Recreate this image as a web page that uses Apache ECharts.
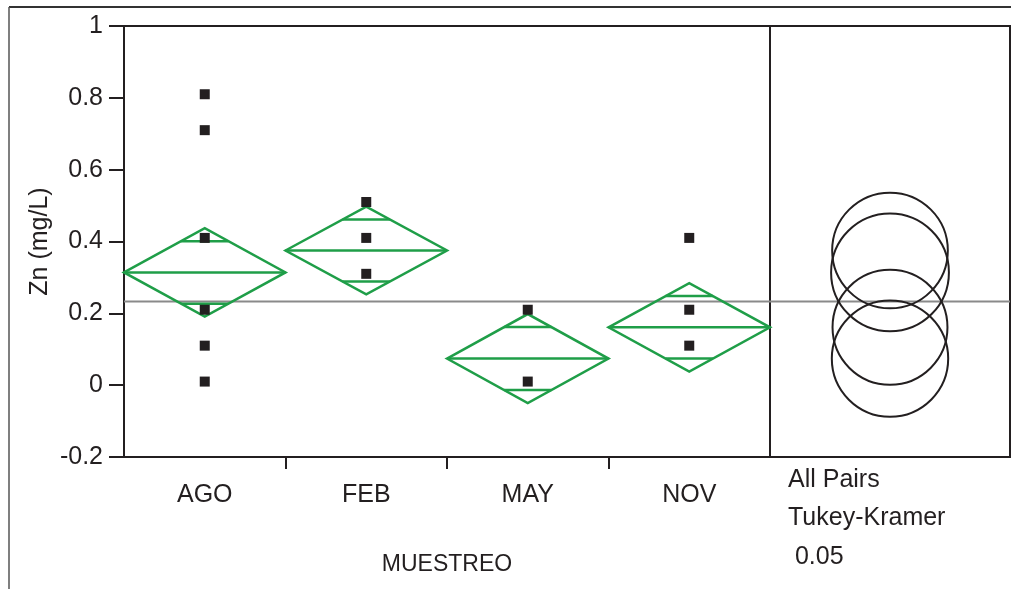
<!DOCTYPE html>
<html>
<head>
<meta charset="utf-8">
<script src="https://cdn.jsdelivr.net/npm/echarts@6/dist/echarts.min.js"></script>
<style>
html,body{margin:0;padding:0;background:#fff;}
#chart{width:1011px;height:589px;}
</style>
</head>
<body>
<div id="chart"></div>
<script>
// ---- data ----
const categories = ['AGO', 'FEB', 'MAY', 'NOV'];
const agoValues = [0.81, 0.71, 0.41, 0.21, 0.11, 0.01];
const febValues = [0.51, 0.41, 0.31];
const mayValues = [0.21, 0.01];
const novValues = [0.41, 0.21, 0.11];
const groupMeans = [0.314, 0.375, 0.074, 0.161];
const ciHalfWidths = [0.123, 0.122, 0.124, 0.123];
const circleRadii = [0.164, 0.161, 0.162, 0.160];
const grandMean = 0.233;
const yMin = -0.2, yMax = 1, yStep = 0.2;
const yTitle = 'Zn (mg/L)';
const xTitle = 'MUESTREO';
const compareLabels = ['All Pairs', 'Tukey-Kramer', ' 0.05'];

// ---- build ----
const groups = [agoValues, febValues, mayValues, novValues];
const pointData = [];
groups.forEach((vals, i) => vals.forEach(v => pointData.push([i + 0.5, v])));
const diamondData = groupMeans.map((m, i) => [i, m, ciHalfWidths[i]]);
const circleData = groupMeans.map((m, i) => [0.5, m, circleRadii[i]]);

const FONT = '"Liberation Sans", Arial, sans-serif';
const INK = '#231f20';
const GREEN = '#1f9e48';

const chart = echarts.init(document.getElementById('chart'));

function grandLine(params, api) {
  const cs = params.coordSys;
  const y = api.coord([0, api.value(0)])[1];
  return {
    type: 'line',
    shape: { x1: cs.x, y1: y, x2: cs.x + cs.width, y2: y },
    style: { stroke: '#8a8a8a', lineWidth: 2 }
  };
}

chart.setOption({
  animation: false,
  backgroundColor: '#fff',
  textStyle: { fontFamily: FONT },
  grid: [
    { left: 124, top: 26, width: 646, height: 431, show: true, borderColor: INK, borderWidth: 2, backgroundColor: 'transparent' },
    { left: 770, top: 26, width: 240, height: 431, show: true, borderColor: INK, borderWidth: 2, backgroundColor: 'transparent' }
  ],
  xAxis: [
    {
      type: 'value', gridIndex: 0, min: 0, max: categories.length,
      splitLine: { show: false },
      axisLine: { show: true, onZero: false, lineStyle: { color: INK, width: 2 } },
      axisTick: { show: true, length: 12, customValues: [1, 2, 3], lineStyle: { color: INK, width: 2 } },
      axisLabel: {
        customValues: categories.map((c, i) => i + 0.5),
        formatter: v => categories[Math.floor(v)],
        fontSize: 25, color: INK, margin: 26, fontFamily: FONT
      },
      name: xTitle, nameLocation: 'middle', nameGap: 96, nameMoveOverlap: false,
      nameTextStyle: { fontSize: 23, color: INK, fontFamily: FONT }
    },
    { type: 'value', gridIndex: 1, min: 0, max: 1, show: false }
  ],
  yAxis: [
    {
      type: 'value', gridIndex: 0, min: yMin, max: yMax, interval: yStep,
      splitLine: { show: false },
      axisLine: { show: true, onZero: false, lineStyle: { color: INK, width: 2 } },
      axisTick: { show: true, length: 15, lineStyle: { color: INK, width: 2 } },
      axisLabel: { fontSize: 25, color: INK, margin: 21, fontFamily: FONT },
      name: yTitle, nameLocation: 'middle', nameRotate: 90, nameGap: 71, nameMoveOverlap: false,
      nameTextStyle: { fontSize: 25, color: INK, fontFamily: FONT }
    },
    { type: 'value', gridIndex: 1, min: yMin, max: yMax, interval: yStep, show: false }
  ],
  graphic: [
    { type: 'line', shape: { x1: 9, y1: 7, x2: 1011, y2: 7 }, style: { stroke: '#333', lineWidth: 2 } },
    { type: 'line', shape: { x1: 9, y1: 7, x2: 9, y2: 589 }, style: { stroke: '#555', lineWidth: 1.5 } },
    { type: 'text', left: 788, top: 468, style: { text: compareLabels[0], font: '25px ' + FONT, fill: INK } },
    { type: 'text', left: 788, top: 506, style: { text: compareLabels[1], font: '25px ' + FONT, fill: INK } },
    { type: 'text', left: 788, top: 545, style: { text: compareLabels[2], font: '25px ' + FONT, fill: INK } }
  ],
  series: [
    {
      type: 'custom', name: 'grand', xAxisIndex: 0, yAxisIndex: 0, z: 1,
      data: [[grandMean]], renderItem: grandLine
    },
    {
      type: 'custom', name: 'grand2', xAxisIndex: 1, yAxisIndex: 1, z: 1,
      data: [[grandMean]], renderItem: grandLine
    },
    {
      type: 'custom', name: 'diamonds', xAxisIndex: 0, yAxisIndex: 0, z: 2,
      data: diamondData,
      renderItem: function (params, api) {
        const i = api.value(0), m = api.value(1), h = api.value(2);
        const L = api.coord([i, m]);
        const R = api.coord([i + 1, m]);
        const T = api.coord([i + 0.5, m + h]);
        const B = api.coord([i + 0.5, m - h]);
        const halfW = (R[0] - L[0]) / 2;
        const cx = (R[0] + L[0]) / 2;
        const ov = h / Math.SQRT2;
        const yU = api.coord([i + 0.5, m + ov])[1];
        const yD = api.coord([i + 0.5, m - ov])[1];
        const w = halfW * (1 - 1 / Math.SQRT2);
        const st = { stroke: GREEN, lineWidth: 2.5, fill: null };
        return {
          type: 'group',
          children: [
            { type: 'polygon', shape: { points: [L, T, R, B] }, style: st },
            { type: 'line', shape: { x1: L[0], y1: L[1], x2: R[0], y2: R[1] }, style: st },
            { type: 'line', shape: { x1: cx - w, y1: yU, x2: cx + w, y2: yU }, style: st },
            { type: 'line', shape: { x1: cx - w, y1: yD, x2: cx + w, y2: yD }, style: st }
          ]
        };
      }
    },
    {
      type: 'scatter', name: 'points', xAxisIndex: 0, yAxisIndex: 0, z: 3,
      symbol: 'rect', symbolSize: 10,
      itemStyle: { color: INK, opacity: 1 },
      data: pointData
    },
    {
      type: 'custom', name: 'circles', xAxisIndex: 1, yAxisIndex: 1, z: 2,
      data: circleData,
      renderItem: function (params, api) {
        const c = api.coord([api.value(0), api.value(1)]);
        const r = api.size([0, api.value(2)])[1];
        return {
          type: 'circle',
          shape: { cx: c[0], cy: c[1], r: r },
          style: { stroke: INK, lineWidth: 2, fill: null }
        };
      }
    }
  ]
});
</script>
</body>
</html>
